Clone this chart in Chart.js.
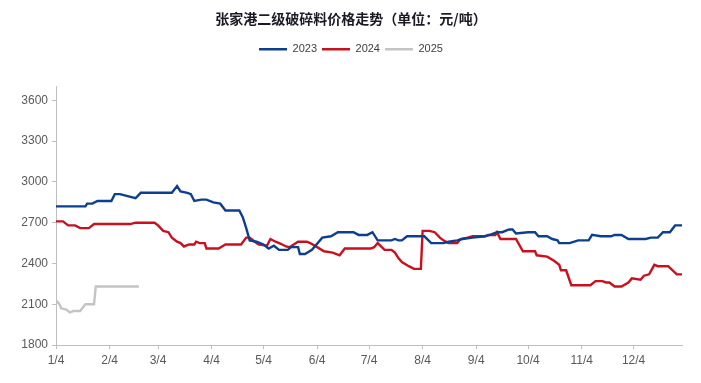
<!DOCTYPE html>
<html>
<head>
<meta charset="utf-8">
<script src="https://cdn.jsdelivr.net/npm/chart.js@4/dist/chart.umd.min.js"></script>
<style>
  html, body { margin: 0; padding: 0; background: #ffffff; }
  #wrap { width: 701px; height: 383px; position: relative; }
</style>
</head>
<body>
<div id="wrap"><canvas id="c"></canvas></div>
<script>
// ---- data (x = days since 1/4) ----
const seriesNames = ['2023', '2024', '2025'];

const days2023 = [0,17,18,21,24,32,34,37,46,49,67,70,72,76,78,80,84,87,91,95,98,106,108,110,112,116,120,123,126,129,134,136,140,141,144,148,150,154,159,163,172,175,180,183,186,194,196,198,200,203,213,217,224,227,232,235,241,248,251,255,258,262,264,266,273,277,279,284,287,290,291,297,302,308,310,315,321,323,327,331,341,344,348,351,355,358,362];
const vals2023 = [2820,2820,2840,2840,2860,2860,2910,2910,2880,2920,2920,2970,2930,2920,2910,2860,2870,2870,2850,2840,2790,2790,2740,2660,2570,2560,2540,2510,2530,2500,2500,2520,2520,2470,2470,2500,2530,2590,2600,2630,2630,2610,2610,2630,2570,2570,2580,2570,2570,2600,2600,2550,2550,2560,2570,2580,2590,2600,2610,2630,2630,2650,2650,2620,2630,2630,2600,2600,2580,2570,2550,2550,2570,2570,2610,2600,2600,2610,2610,2580,2580,2590,2590,2630,2630,2680,2680];

const days2024 = [0,4,7,11,14,19,22,43,46,57,59,62,65,67,70,72,74,77,80,81,83,86,87,94,98,107,110,112,115,117,122,124,127,130,133,135,140,145,147,151,155,160,164,167,182,184,186,190,194,196,198,200,204,207,211,212,216,219,222,224,227,232,234,238,241,248,250,254,255,257,266,270,277,278,284,288,291,292,295,298,309,312,316,318,320,323,327,331,333,338,340,343,346,348,354,359,362];
const vals2024 = [2710,2710,2680,2680,2660,2660,2690,2690,2700,2700,2680,2640,2630,2590,2560,2550,2525,2540,2540,2560,2550,2550,2510,2510,2540,2540,2590,2590,2560,2540,2530,2580,2560,2545,2525,2520,2560,2560,2550,2520,2490,2480,2460,2510,2510,2520,2550,2500,2500,2480,2440,2410,2380,2360,2360,2640,2640,2630,2590,2570,2550,2550,2580,2590,2600,2600,2610,2610,2630,2580,2580,2490,2490,2460,2450,2420,2390,2350,2350,2240,2240,2270,2270,2260,2260,2230,2230,2260,2290,2280,2310,2320,2390,2380,2380,2320,2320];

const days2025 = [0,2,3,6,8,10,14,17,22,23,48];
const vals2025 = [2130,2100,2070,2060,2040,2050,2050,2100,2100,2230,2230];

const xTickDays = [0,31,59,90,120,151,181,212,243,273,304,334];
const xTickLabels = ['1/4','2/4','3/4','4/4','5/4','6/4','7/4','8/4','9/4','10/4','11/4','12/4'];
const yTickValues = [1800,2100,2400,2700,3000,3300,3600];

const colors = ['#0e3f8e', '#c8101e', '#c4c4c4'];

function pts(d, v) { return d.map((x, i) => ({ x: x, y: v[i] })); }

const datasets = [
  { label: seriesNames[0], data: pts(days2023, vals2023) },
  { label: seriesNames[1], data: pts(days2024, vals2024) },
  { label: seriesNames[2], data: pts(days2025, vals2025) }
].map((ds, i) => Object.assign(ds, {
  borderColor: colors[i],
  backgroundColor: colors[i],
  borderWidth: 2.4,
  pointRadius: 0,
  pointHoverRadius: 0,
  tension: 0,
  fill: false
}));

const axisColor = '#bfbfbf';
const tickFont = { family: '"Liberation Sans", Arial, sans-serif', size: 12 };

new Chart(document.getElementById('c'), {
  type: 'line',
  data: { datasets: datasets },
  options: {
    responsive: true,
    maintainAspectRatio: false,
    animation: false,
    devicePixelRatio: 1,
    layout: { padding: { left: 20, right: 19, top: 0, bottom: 0 } },
    plugins: {
      title: {
        display: true,
        text: '张家港二级破碎料价格走势（单位：元/吨）',
        color: '#1a1a26',
        font: { family: '"Noto Sans CJK SC", sans-serif', size: 14, weight: 'bold' },
        padding: { top: 10, bottom: 12 }
      },
      subtitle: {
        display: true,
        text: ' ',
        weight: 500,
        font: { size: 10 },
        padding: { top: 0, bottom: 10 }
      },
      legend: {
        display: true,
        position: 'top',
        labels: {
          usePointStyle: true,
          pointStyle: 'line',
          pointStyleWidth: 28,
          color: '#404040',
          font: { family: '"Liberation Sans", Arial, sans-serif', size: 11 },
          padding: 5
        }
      },
      tooltip: { enabled: false }
    },
    scales: {
      x: {
        type: 'linear',
        min: 0,
        max: 362,
        afterBuildTicks: (s) => { s.ticks = xTickDays.map(v => ({ value: v })); },
        afterFit: (s) => { s.height = 38; },
        ticks: {
          autoSkip: false,
          maxRotation: 0,
          minRotation: 0,
          color: '#595959',
          font: tickFont,
          padding: 4,
          callback: (v, i) => xTickLabels[i]
        },
        grid: { display: true, drawOnChartArea: false, drawTicks: true, tickLength: 4, color: axisColor },
        border: { display: true, color: axisColor, width: 1 }
      },
      y: {
        type: 'linear',
        min: 1800,
        max: 3700,
        afterBuildTicks: (s) => { s.ticks = yTickValues.map(v => ({ value: v })); },
        afterFit: (s) => { s.width = 36; },
        ticks: {
          color: '#595959',
          font: tickFont,
          padding: 4,
          callback: (v) => String(v)
        },
        grid: { display: true, drawOnChartArea: false, drawTicks: true, tickLength: 4, color: axisColor },
        border: { display: true, color: axisColor, width: 1 }
      }
    }
  }
});
</script>
</body>
</html>
